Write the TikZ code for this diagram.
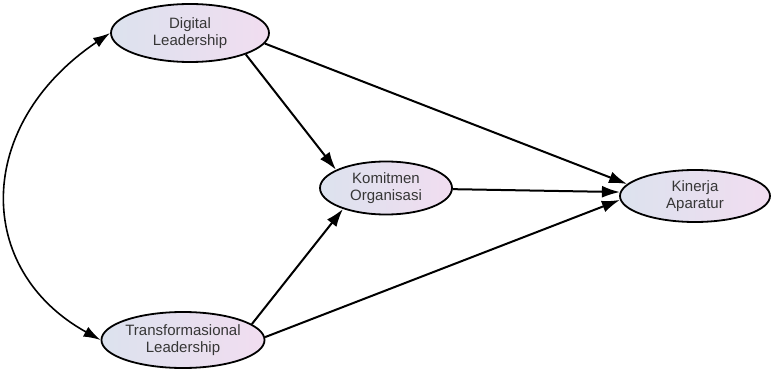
\documentclass[tikz,border=0pt]{standalone}
\usepackage{fontspec}
\setmainfont{Liberation Sans}
\usetikzlibrary{shapes.geometric,arrows.meta}
\definecolor{nodeleft}{HTML}{DCE2EE}
\definecolor{noderight}{HTML}{F1DDF0}
\definecolor{labeltext}{HTML}{363636}
\tikzset{
  construct/.style={ellipse, draw=black, line width=1.8pt, left color=nodeleft, right color=noderight,
    inner sep=0pt, align=center, text=labeltext, font=\fontsize{15}{17}\selectfont},
  path/.style={line width=2pt, -{Latex[length=18pt,width=12pt]}},
  cov/.style={line width=1.6pt, {Latex[length=17pt,width=11pt]}-{Latex[length=17pt,width=11pt]}}
}
\begin{document}
\begin{tikzpicture}[x=1pt,y=-1pt]
\useasboundingbox (0,0) rectangle (771,374);
\node[construct, minimum width=158pt, minimum height=58pt] (dl) at (190,33) {Digital\\Leadership};
\node[construct, minimum width=132pt, minimum height=53pt] (ko) at (386,188) {Komitmen\\Organisasi};
\node[construct, minimum width=150pt, minimum height=52pt] (ka) at (695,196) {Kinerja\\Aparatur};
\node[construct, minimum width=160pt, minimum height=56pt] (tl) at (183,340) {Transformasional\\Leadership};
\draw[path] (dl.-21) -- (ko.160);
\draw[path] (dl.-8) -- (ka.170);
\draw[path] (ko.-1) -- (ka.177);
\draw[path] (tl.13) -- (ko.-154);
\draw[path] (tl.2) -- (ka.-177);
\draw[cov] (dl.west) .. controls (-26,125) and (-26,270) .. (tl.west);
\end{tikzpicture}
\end{document}
